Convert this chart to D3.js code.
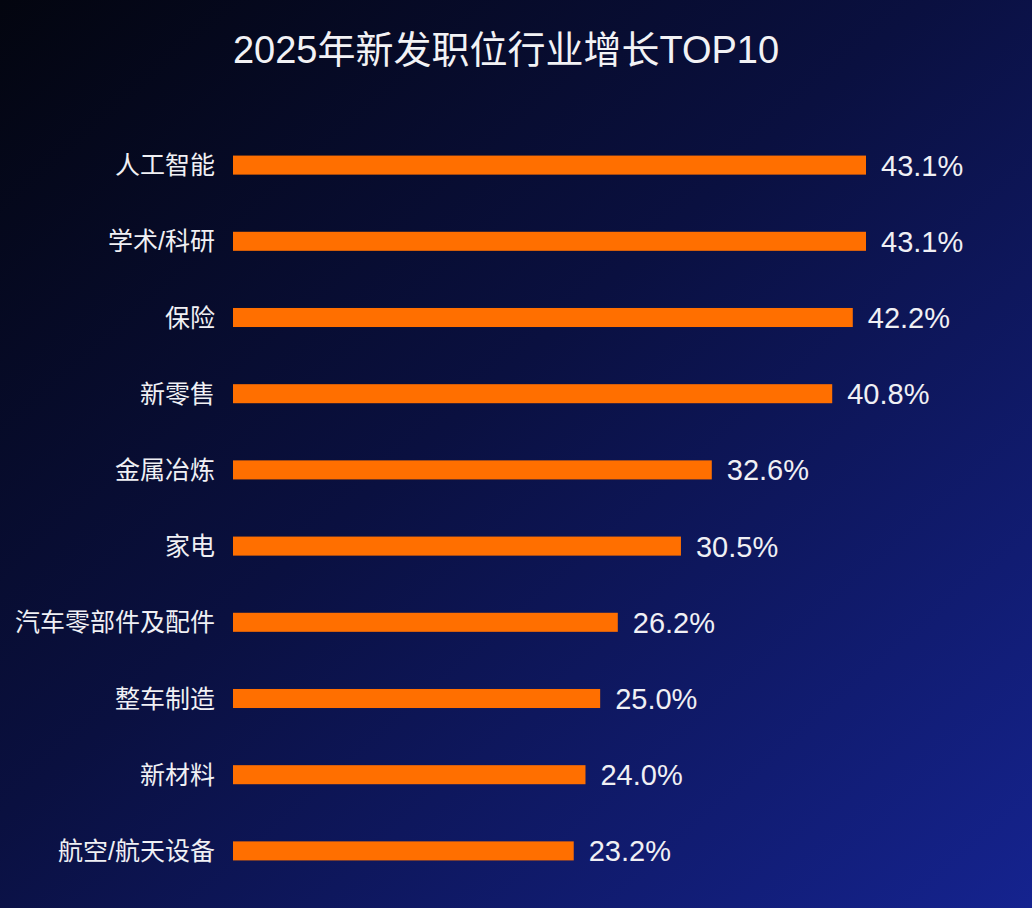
<!DOCTYPE html>
<html><head><meta charset="utf-8">
<script src="https://cdn.jsdelivr.net/npm/d3@7"></script>
<style>body{margin:0;background:#070b26;overflow:hidden}</style>
</head><body><div id="container"></div>
<script>
const width = 1032, height = 908;
const categories = ["人工智能","学术/科研","保险","新零售","金属冶炼","家电","汽车零部件及配件","整车制造","新材料","航空/航天设备"];
const values = [43.1,43.1,42.2,40.8,32.6,30.5,26.2,25.0,24.0,23.2];

const svg = d3.select("#container").append("svg").attr("width", width).attr("height", height);
const defs = svg.append("defs");
// 背景渐变
const g1 = defs.append("linearGradient").attr("id","bg").attr("x1","0").attr("y1","0").attr("x2","1").attr("y2","1");
g1.append("stop").attr("offset","0").attr("stop-color","#03050f");
g1.append("stop").attr("offset","0.45").attr("stop-color","#0a1040");
g1.append("stop").attr("offset","1").attr("stop-color","#15238f");
svg.append("rect").attr("width",width).attr("height",height).attr("fill","url(#bg)");

svg.append("text").attr("x",506).attr("y",63).attr("text-anchor","middle")
  .attr("fill","#f2f2f5").attr("font-size",38)
  .attr("font-family","'Liberation Sans','Noto Sans CJK SC',sans-serif")
  .text("2025年新发职位行业增长TOP10");

const x = d3.scaleLinear().domain([0, 43.1]).range([233, 866]);
const y = d3.scaleBand().domain(categories).range([127, 889]).paddingInner(0.75).paddingOuter(0.375);

svg.append("g").selectAll("rect").data(values).join("rect")
  .attr("x", x(0)).attr("y", (d,i) => y(categories[i]))
  .attr("width", d => x(d) - x(0)).attr("height", y.bandwidth())
  .attr("fill","#ff6f00");

svg.append("g").selectAll("text").data(categories).join("text")
  .attr("x", 215).attr("y", d => y(d) + y.bandwidth()/2).attr("dy","0.36em")
  .attr("text-anchor","end").attr("fill","#f0f0f4").attr("font-size",25)
  .attr("font-family","'Liberation Sans','Noto Sans CJK SC',sans-serif").text(d => d);

svg.append("g").selectAll("text").data(values).join("text")
  .attr("x", d => x(d) + 15).attr("y", (d,i) => y(categories[i]) + y.bandwidth()/2).attr("dy","0.36em")
  .attr("fill","#f0f0f4").attr("font-size",29)
  .attr("font-family","'Liberation Sans',Arial,sans-serif").text(d => d.toFixed(1) + "%");
</script></body></html>
